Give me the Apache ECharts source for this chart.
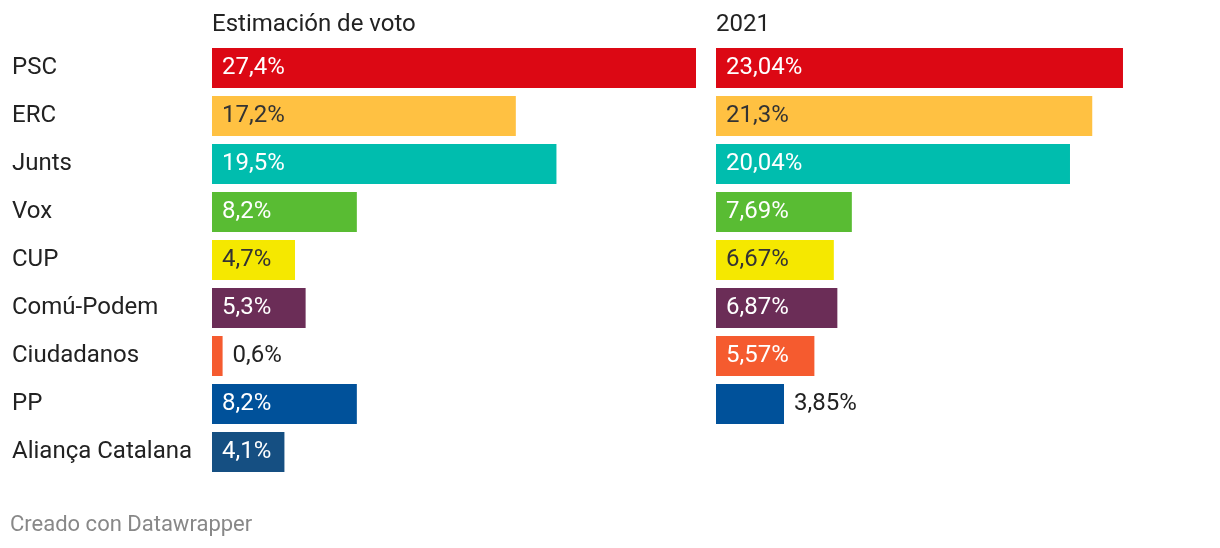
<!DOCTYPE html>
<html>
<head>
<meta charset="utf-8">
<script src="https://cdn.jsdelivr.net/npm/echarts@6/dist/echarts.min.js"></script>
<style>
html,body{margin:0;padding:0;background:#fff;}
#chart{width:1220px;height:548px;}
</style>
</head>
<body>
<div id="chart"></div>
<script>
const categories = ['PSC','ERC','Junts','Vox','CUP','Comú-Podem','Ciudadanos','PP','Aliança Catalana'];
const estimacion = [27.4, 17.2, 19.5, 8.2, 4.7, 5.3, 0.6, 8.2, 4.1];
const resultados2021 = [23.04, 21.3, 20.04, 7.69, 6.67, 6.87, 5.57, 3.85, null];
const colors = ['#dc0814','#ffc142','#00bdae','#59bc33','#f5e800','#6b2d57','#f55b2f','#00519a','#154f82'];
const panelTitles = ['Estimación de voto','2021'];
const footer = 'Creado con Datawrapper';

const FONT = 'Roboto, "Noto Sans", sans-serif';
function isLight(hex){
  const r=parseInt(hex.substr(1,2),16),g=parseInt(hex.substr(3,2),16),b=parseInt(hex.substr(5,2),16);
  return (0.299*r+0.587*g+0.114*b) > 170;
}
function fmt(v){ return String(v).replace('.', ',') + '%'; }
function buildData(vals){
  return vals.map((v,i)=>{
    if(v===null) return '-';
    const outside = v < 4;
    return {
      value: v,
      itemStyle:{color: colors[i]},
      label:{
        show:true,
        position: outside ? 'right' : 'insideLeft',
        distance: 10,
        padding:[4,0,0,0],
        color: outside ? '#222' : (isLight(colors[i]) ? '#333' : '#fff'),
        fontSize: 24,
        fontFamily: FONT,
        formatter: fmt(v)
      }
    };
  });
}
const MAX = 27.4;
const chart = echarts.init(document.getElementById('chart'));
chart.setOption({
  animation:false,
  backgroundColor:'#fff',
  title:[
    {text: panelTitles[0], left: 212, top: 13, padding:0, textStyle:{fontSize:24, fontWeight:'normal', color:'#222', fontFamily:FONT}},
    {text: panelTitles[1], left: 716, top: 13, padding:0, textStyle:{fontSize:24, fontWeight:'normal', color:'#222', fontFamily:FONT}}
  ],
  graphic:[{type:'text', left:10, top:514, style:{text:footer, fill:'#888', fontSize:22, fontFamily:FONT}}],
  grid:[
    {left:212, top:44, width:484, height:432},
    {left:716, top:44, width:484, height:432}
  ],
  xAxis:[
    {gridIndex:0, type:'value', min:0, max:MAX, show:false},
    {gridIndex:1, type:'value', min:0, max:MAX, show:false}
  ],
  yAxis:[
    {gridIndex:0, type:'category', data:categories, inverse:true,
     axisLine:{show:false}, axisTick:{show:false},
     axisLabel:{align:'left', margin:200, padding:[4,0,0,0], fontSize:24, color:'#222', fontFamily:FONT}},
    {gridIndex:1, type:'category', data:categories, inverse:true,
     axisLine:{show:false}, axisTick:{show:false}, axisLabel:{show:false}}
  ],
  series:[
    {type:'bar', xAxisIndex:0, yAxisIndex:0, barWidth:40, data: buildData(estimacion)},
    {type:'bar', xAxisIndex:1, yAxisIndex:1, barWidth:40, data: buildData(resultados2021)}
  ]
});
</script>
</body>
</html>
